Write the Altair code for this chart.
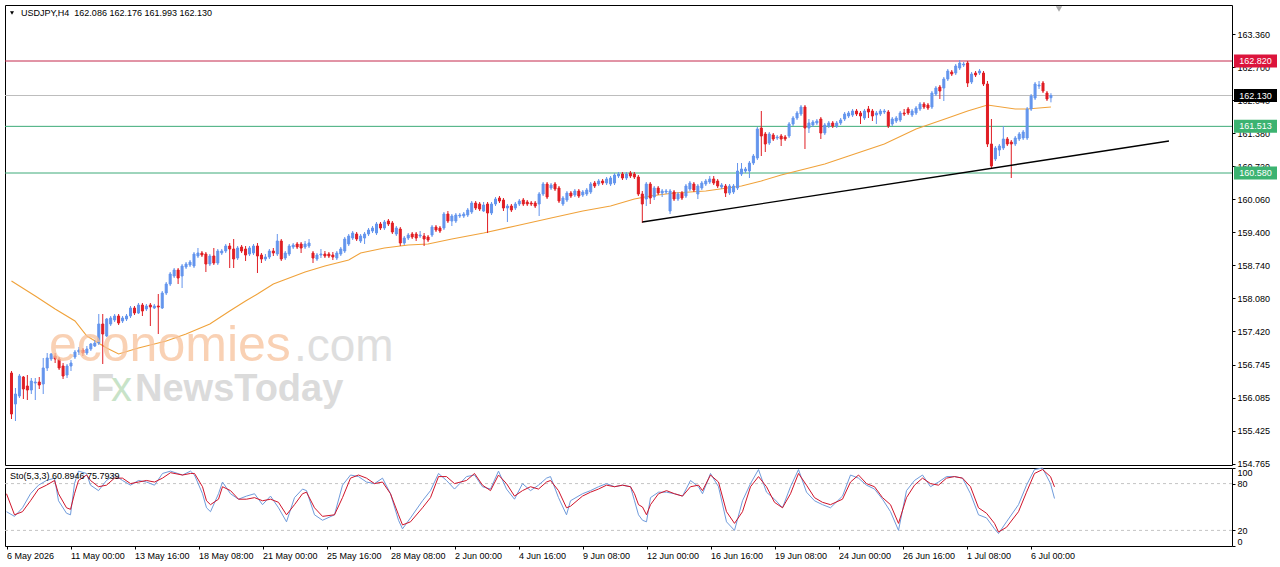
import altair as alt
import pandas as pd

# ---------------- data ----------------
bar_open = [
    156.58, 155.96, 156.12, 156.50, 156.32, 156.24, 156.38, 156.40, 156.36, 156.68,
    156.86, 156.92, 156.86, 156.72, 156.54, 156.72, 156.90, 157.00, 157.04, 156.98,
    157.06, 157.12, 157.18, 157.56, 157.32, 157.56, 157.64, 157.72, 157.62, 157.66,
    157.72, 157.88, 157.78, 157.94, 157.86, 157.94, 157.88, 157.92, 157.88, 158.18,
    158.36, 158.52, 158.64, 158.52, 158.70, 158.74, 158.72, 158.92, 158.98, 158.96,
    158.76, 158.92, 158.78, 158.98, 159.02, 159.12, 159.06, 158.88, 159.10, 159.06,
    158.96, 158.98, 159.12, 158.94, 158.86, 158.90, 159.02, 158.96, 159.22, 158.88,
    158.96, 159.10, 159.16, 159.16, 159.10, 159.12, 158.98, 158.86, 158.94, 158.96,
    158.96, 158.94, 158.88, 158.96, 159.02, 159.16, 159.28, 159.36, 159.22, 159.28,
    159.36, 159.42, 159.38, 159.56, 159.48, 159.62, 159.58, 159.36, 159.46, 159.18,
    159.28, 159.36, 159.36, 159.32, 159.32, 159.30, 159.34, 159.50, 159.48, 159.48,
    159.76, 159.62, 159.62, 159.72, 159.72, 159.74, 159.80, 159.98, 159.96, 159.82,
    159.96, 159.78, 159.96, 160.08, 160.04, 159.88, 159.92, 159.88, 159.96, 160.04,
    160.00, 159.98, 159.98, 159.96, 160.16, 160.36, 160.28, 160.36, 160.28, 159.96,
    160.04, 160.18, 160.14, 160.22, 160.14, 160.16, 160.20, 160.38, 160.36, 160.42,
    160.38, 160.36, 160.38, 160.52, 160.56, 160.48, 160.58, 160.56, 160.50, 160.16,
    160.06, 160.36, 160.10, 160.28, 160.18, 160.20, 159.82, 160.20, 160.06, 160.18,
    160.12, 160.26, 160.36, 160.16, 160.28, 160.36, 160.40, 160.46, 160.42, 160.30,
    160.32, 160.18, 160.20, 160.28, 160.56, 160.62, 160.62, 160.78, 160.88, 161.48,
    161.36, 161.18, 161.34, 161.28, 161.32, 161.30, 161.32, 161.56, 161.68, 161.76,
    161.90, 161.48, 161.54, 161.58, 161.66, 161.38, 161.52, 161.58, 161.52, 161.58,
    161.66, 161.72, 161.74, 161.82, 161.78, 161.68, 161.86, 161.82, 161.74, 161.76,
    161.80, 161.80, 161.56, 161.62, 161.64, 161.78, 161.86, 161.74, 161.78, 161.86,
    161.96, 161.94, 161.90, 162.16, 162.30, 162.28, 162.46, 162.60, 162.58, 162.68,
    162.74, 162.78, 162.40, 162.58, 162.58, 162.58, 162.36, 161.16, 160.86, 161.04,
    161.08, 161.26, 161.20, 161.16, 161.26, 161.28, 161.28, 161.86, 162.08, 162.32,
    162.38, 162.18, 162.086,
]
bar_high = [
    156.62, 156.28, 156.56, 156.52, 156.54, 156.48, 156.48, 156.50, 156.88, 156.98,
    156.98, 156.98, 156.90, 156.78, 156.76, 156.84, 157.04, 157.10, 157.08, 157.12,
    157.18, 157.24, 157.76, 157.76, 157.68, 157.72, 157.76, 157.76, 157.72, 157.76,
    157.92, 157.92, 157.98, 157.98, 157.96, 157.98, 157.96, 158.16, 158.22, 158.40,
    158.60, 158.68, 158.68, 158.76, 158.80, 158.84, 159.00, 159.08, 159.02, 159.00,
    158.96, 159.08, 159.06, 159.06, 159.16, 159.18, 159.26, 159.12, 159.14, 159.12,
    159.12, 159.16, 159.18, 158.98, 158.96, 159.06, 159.08, 159.36, 159.26, 159.02,
    159.16, 159.18, 159.20, 159.20, 159.22, 159.26, 159.02, 158.98, 159.06, 159.02,
    159.00, 159.00, 159.02, 159.10, 159.30, 159.36, 159.42, 159.40, 159.36, 159.40,
    159.48, 159.52, 159.60, 159.60, 159.64, 159.66, 159.62, 159.52, 159.50, 159.32,
    159.38, 159.40, 159.40, 159.42, 159.38, 159.34, 159.54, 159.54, 159.52, 159.80,
    159.82, 159.76, 159.78, 159.78, 159.80, 159.88, 160.02, 160.02, 160.00, 160.00,
    160.00, 160.00, 160.10, 160.12, 160.08, 159.96, 159.96, 160.00, 160.06, 160.08,
    160.04, 160.02, 160.02, 160.20, 160.40, 160.40, 160.38, 160.40, 160.32, 160.12,
    160.22, 160.22, 160.26, 160.26, 160.24, 160.28, 160.40, 160.42, 160.46, 160.46,
    160.50, 160.52, 160.58, 160.60, 160.60, 160.60, 160.62, 160.60, 160.54, 160.22,
    160.40, 160.40, 160.32, 160.32, 160.26, 160.26, 160.26, 160.24, 160.20, 160.22,
    160.36, 160.42, 160.40, 160.36, 160.42, 160.46, 160.52, 160.52, 160.46, 160.38,
    160.36, 160.36, 160.36, 160.78, 160.78, 160.70, 160.82, 160.96, 161.50, 161.82,
    161.40, 161.40, 161.38, 161.34, 161.36, 161.34, 161.60, 161.72, 161.82, 161.94,
    161.94, 161.66, 161.64, 161.66, 161.70, 161.58, 161.62, 161.62, 161.62, 161.68,
    161.80, 161.82, 161.86, 161.86, 161.82, 161.86, 161.92, 161.86, 161.82, 161.86,
    161.86, 161.84, 161.70, 161.72, 161.82, 161.86, 161.90, 161.86, 161.92, 162.00,
    162.00, 161.98, 162.22, 162.32, 162.34, 162.50, 162.66, 162.64, 162.76, 162.84,
    162.80, 162.82, 162.60, 162.62, 162.66, 162.62, 162.42, 161.66, 161.12, 161.16,
    161.52, 161.30, 161.24, 161.32, 161.40, 161.44, 161.90, 162.16, 162.40, 162.42,
    162.42, 162.22, 162.176,
]
bar_low = [
    155.66, 155.62, 156.08, 156.06, 156.04, 156.16, 156.04, 156.26, 156.16, 156.62,
    156.82, 156.78, 156.64, 156.46, 156.48, 156.62, 156.86, 156.94, 156.92, 156.94,
    157.02, 157.10, 157.14, 156.76, 157.30, 157.52, 157.60, 157.54, 157.58, 157.62,
    157.68, 157.74, 157.76, 157.72, 157.82, 157.52, 157.86, 157.36, 157.86, 158.14,
    158.32, 158.48, 158.36, 158.28, 158.66, 158.70, 158.68, 158.88, 158.90, 158.60,
    158.72, 158.74, 158.74, 158.94, 158.98, 158.68, 158.68, 158.84, 158.98, 158.82,
    158.92, 158.94, 158.58, 158.78, 158.82, 158.86, 158.92, 158.92, 158.82, 158.84,
    158.92, 159.06, 159.06, 158.98, 159.06, 159.08, 158.78, 158.82, 158.88, 158.88,
    158.88, 158.84, 158.84, 158.92, 158.98, 159.12, 159.24, 159.22, 159.18, 159.16,
    159.32, 159.38, 159.34, 159.44, 159.44, 159.52, 159.36, 159.32, 159.12, 159.14,
    159.24, 159.26, 159.22, 159.28, 159.12, 159.20, 159.30, 159.40, 159.38, 159.44,
    159.58, 159.52, 159.58, 159.68, 159.68, 159.70, 159.76, 159.84, 159.82, 159.80,
    159.38, 159.74, 159.92, 159.98, 159.82, 159.60, 159.80, 159.84, 159.92, 159.92,
    159.92, 159.92, 159.88, 159.72, 160.12, 160.06, 160.24, 160.22, 159.98, 159.92,
    160.00, 160.08, 160.10, 160.08, 160.10, 160.12, 160.16, 160.28, 160.32, 160.34,
    160.34, 160.32, 160.34, 160.48, 160.44, 160.44, 160.48, 160.46, 160.12, 159.58,
    159.92, 159.96, 160.04, 160.14, 160.10, 160.16, 159.76, 160.02, 160.02, 160.04,
    160.08, 160.22, 160.20, 160.06, 160.24, 160.32, 160.36, 160.34, 160.28, 160.26,
    160.10, 160.14, 160.16, 160.24, 160.52, 160.58, 160.48, 160.74, 160.84, 160.92,
    161.00, 161.14, 161.22, 161.24, 161.12, 161.22, 161.28, 161.52, 161.64, 161.72,
    161.06, 161.38, 161.50, 161.54, 161.26, 161.34, 161.48, 161.48, 161.48, 161.54,
    161.62, 161.68, 161.70, 161.72, 161.56, 161.64, 161.68, 161.62, 161.56, 161.72,
    161.76, 161.48, 161.52, 161.58, 161.60, 161.72, 161.74, 161.70, 161.74, 161.82,
    161.86, 161.84, 161.86, 162.12, 162.06, 162.02, 162.42, 162.52, 162.54, 162.64,
    162.70, 162.30, 162.36, 162.50, 162.54, 162.32, 161.10, 160.66, 160.82, 160.92,
    161.04, 161.12, 160.48, 161.12, 161.22, 161.24, 161.24, 161.82, 162.04, 162.26,
    162.18, 162.02, 161.993,
]
bar_close = [
    155.76, 156.16, 156.52, 156.26, 156.24, 156.42, 156.40, 156.34, 156.68, 156.88,
    156.96, 156.86, 156.68, 156.52, 156.72, 156.78, 157.00, 157.04, 156.98, 157.06,
    157.16, 157.18, 157.56, 157.36, 157.66, 157.68, 157.72, 157.58, 157.68, 157.72,
    157.88, 157.78, 157.94, 157.82, 157.92, 157.90, 157.92, 157.90, 158.18, 158.36,
    158.56, 158.64, 158.48, 158.72, 158.76, 158.80, 158.96, 158.98, 158.94, 158.76,
    158.92, 158.78, 159.02, 159.02, 159.12, 159.06, 158.86, 159.08, 159.02, 158.94,
    159.08, 159.12, 158.92, 158.86, 158.90, 159.02, 158.98, 159.22, 158.86, 158.98,
    159.12, 159.14, 159.10, 159.08, 159.16, 159.18, 158.88, 158.94, 158.96, 158.92,
    158.92, 158.90, 158.98, 159.06, 159.26, 159.32, 159.38, 159.26, 159.32, 159.36,
    159.44, 159.48, 159.56, 159.48, 159.60, 159.56, 159.40, 159.48, 159.18, 159.28,
    159.34, 159.30, 159.28, 159.34, 159.26, 159.24, 159.50, 159.44, 159.42, 159.76,
    159.62, 159.72, 159.74, 159.74, 159.76, 159.84, 159.98, 159.88, 159.86, 159.94,
    159.78, 159.96, 160.06, 160.02, 159.88, 159.92, 159.84, 159.96, 160.02, 159.96,
    159.96, 159.96, 159.92, 160.16, 160.36, 160.10, 160.34, 160.26, 160.02, 160.08,
    160.18, 160.12, 160.22, 160.12, 160.20, 160.24, 160.36, 160.32, 160.42, 160.38,
    160.46, 160.48, 160.54, 160.56, 160.48, 160.56, 160.52, 160.50, 160.16, 159.96,
    160.36, 160.08, 160.28, 160.18, 160.22, 160.22, 160.22, 160.06, 160.16, 160.08,
    160.32, 160.38, 160.24, 160.32, 160.38, 160.42, 160.46, 160.38, 160.32, 160.34,
    160.18, 160.32, 160.32, 160.62, 160.66, 160.66, 160.78, 160.92, 161.46, 161.32,
    161.16, 161.36, 161.26, 161.30, 161.26, 161.26, 161.56, 161.68, 161.78, 161.90,
    161.48, 161.58, 161.60, 161.62, 161.38, 161.54, 161.58, 161.52, 161.58, 161.64,
    161.76, 161.78, 161.82, 161.76, 161.72, 161.82, 161.80, 161.72, 161.78, 161.82,
    161.82, 161.52, 161.66, 161.68, 161.78, 161.76, 161.78, 161.82, 161.88, 161.96,
    161.90, 161.88, 162.18, 162.28, 162.22, 162.46, 162.62, 162.56, 162.72, 162.78,
    162.76, 162.38, 162.56, 162.54, 162.62, 162.36, 161.16, 160.72, 161.08, 161.12,
    161.26, 161.16, 161.16, 161.28, 161.36, 161.40, 161.86, 162.12, 162.36, 162.34,
    162.22, 162.06, 162.130,
]

# moving average (orange), sampled along the line
ma_bar = [0, 6, 11, 16, 19, 24, 27, 32, 39, 44, 50, 55, 59, 62, 66, 74, 79, 85, 88, 94,
          100, 105, 111, 119, 127, 136, 144, 151, 157, 161, 167, 175, 184, 189, 194, 200,
          205, 211, 220, 228, 236, 241, 246, 253, 256, 259, 262]
ma_value = [158.42, 158.12, 157.86, 157.62, 157.32, 157.08, 156.96, 157.08, 157.22, 157.36,
            157.56, 157.82, 158.02, 158.16, 158.36, 158.60, 158.72, 158.84, 158.98, 159.08,
            159.14, 159.16, 159.26, 159.38, 159.52, 159.68, 159.82, 159.92, 160.06, 160.12,
            160.18, 160.22, 160.32, 160.42, 160.54, 160.66, 160.76, 160.92, 161.16, 161.46,
            161.68, 161.82, 161.94, 161.86, 161.86, 161.88, 161.90]

# trend line
trend_bar = [159, 291.75]
trend_price = [159.60, 161.22]

# horizontal levels
level_names = ["resistance", "current", "support1", "support2"]
level_prices = [162.820, 162.130, 161.513, 160.580]

# stochastic (5,3,3)
sto_bar = [0, 2, 4, 6, 8, 10, 12, 13, 15, 16, 17, 18, 20, 21, 23, 25, 27, 29, 31, 33,
           35, 37, 39, 41, 44, 46, 47, 49, 50, 51, 53, 54, 56, 58, 60, 62, 64, 66, 68, 70,
           72, 74, 75, 77, 79, 82, 84, 86, 88, 90, 92, 94, 96, 98, 99, 101, 104, 106, 108, 110,
           112, 115, 117, 119, 121, 123, 125, 127, 129, 131, 133, 135, 136, 138, 140, 141, 144, 146, 148, 150,
           152, 154, 156, 157, 158, 159, 160, 161, 163, 165, 167, 169, 171, 173, 174, 176, 178, 180, 182, 184,
           186, 188, 190, 192, 194, 196, 198, 200, 202, 204, 206, 209, 211, 213, 215, 217, 219, 221, 223, 225,
           227, 229, 231, 233, 235, 237, 239, 241, 243, 245, 247, 248, 250, 253, 255, 257, 259, 261, 262]
sto_k = [44, 38, 49, 67, 78, 84, 87, 58, 42, 40, 80, 96, 93, 78, 71, 84, 91, 84, 78, 84,
         82, 78, 93, 96, 91, 96, 91, 67, 49, 44, 67, 82, 67, 60, 64, 67, 53, 64, 49, 31,
         62, 73, 71, 40, 33, 40, 78, 91, 89, 82, 80, 87, 67, 33, 22, 36, 58, 71, 93, 84,
         73, 89, 91, 76, 73, 96, 73, 60, 80, 71, 78, 87, 89, 62, 40, 58, 67, 71, 76, 80,
         76, 78, 76, 58, 40, 33, 31, 62, 69, 69, 67, 64, 84, 76, 67, 93, 76, 31, 20, 58,
         80, 98, 69, 60, 49, 76, 98, 69, 58, 53, 49, 64, 91, 87, 78, 73, 60, 44, 20, 71,
         84, 91, 76, 82, 89, 89, 87, 67, 40, 36, 22, 16, 31, 53, 78, 98, 100, 80, 60.8946]
sto_d = [67, 40, 44, 58, 73, 78, 84, 67, 49, 47, 67, 84, 91, 84, 76, 78, 87, 87, 80, 82,
         84, 82, 87, 94, 91, 93, 93, 76, 58, 53, 60, 76, 71, 60, 60, 62, 58, 60, 56, 40,
         53, 67, 69, 49, 38, 40, 62, 87, 91, 87, 80, 82, 67, 40, 27, 31, 49, 62, 89, 89,
         80, 84, 93, 78, 71, 91, 80, 64, 71, 76, 73, 82, 84, 71, 49, 51, 64, 69, 73, 78,
         76, 78, 76, 67, 53, 50, 40, 53, 67, 71, 67, 64, 76, 78, 71, 91, 82, 44, 29, 44,
         76, 89, 76, 56, 49, 67, 93, 78, 62, 56, 53, 60, 82, 91, 80, 76, 62, 53, 29, 62,
         78, 87, 80, 78, 87, 89, 87, 76, 49, 42, 29, 18, 24, 44, 69, 93, 98, 89, 75.7939]
sto_levels = [20, 80]

# axes
price_ticks = [163.360, 162.700, 162.040, 161.380, 160.720, 160.060, 159.400, 158.740,
               158.080, 157.420, 156.745, 156.085, 155.425, 154.765]
time_tick_bars = [0, 16, 32, 48, 64, 80, 96, 112, 128, 144, 160, 176, 192, 208, 224, 240, 256]
time_tick_labels = ["6 May 2026", "11 May 00:00", "13 May 16:00", "18 May 08:00", "21 May 00:00",
                    "25 May 16:00", "28 May 08:00", "2 Jun 00:00", "4 Jun 16:00", "9 Jun 08:00",
                    "12 Jun 00:00", "16 Jun 16:00", "19 Jun 08:00", "24 Jun 00:00", "26 Jun 16:00",
                    "1 Jul 08:00", "6 Jul 00:00"]

header_text = "USDJPY,H4\u00a0\u00a0162.086 162.176 161.993 162.130"
sto_text = "Sto(5,3,3) 60.8946 75.7939"

# ---------------- styles ----------------
FONT = "Liberation Sans"
BLUE = "#6495ED"
RED = "#E01E24"
ORANGE = "#F0A23A"
LEVEL_COLORS = {"resistance": "#C4284C", "current": "#BDBDBD", "support1": "#3CAA78", "support2": "#3CAA78"}
TAG_COLORS = {"resistance": "#DC143C", "current": "#000000", "support1": "#3CB371", "support2": "#3CB371"}
K_COLOR = "#6F9BDB"
D_COLOR = "#D0142A"

W, H_MAIN, H_STO = 1227, 460, 78
xs = alt.Scale(domain=[-0.375, 306.375], nice=False, zero=False)
ys = alt.Scale(domain=[154.74, 163.94], nice=False, zero=False)
ss = alt.Scale(domain=[0, 100], nice=False, zero=False)

y_axis = alt.Axis(orient="right", values=price_ticks, format=".3f", title=None,
                  tickSize=3, labelPadding=2, domain=False, grid=False)
X_MAIN = alt.X("bar:Q", scale=xs, axis=None)

candles = pd.DataFrame({
    "bar": list(range(len(bar_close))),
    "open": bar_open, "high": bar_high, "low": bar_low, "close": bar_close,
})
ma_df = pd.DataFrame({"bar": ma_bar, "ma": ma_value})
trend_df = pd.DataFrame({"bar": trend_bar, "price": trend_price})
level_df = pd.DataFrame({"name": level_names, "price": level_prices})
sto_df = pd.DataFrame({"bar": sto_bar, "k": sto_k, "d": sto_d})
sto_lvl_df = pd.DataFrame({"level": sto_levels})

dir_color = alt.Scale(domain=["up", "down"], range=[BLUE, RED])

base_c = alt.Chart(candles).transform_calculate(
    dir="datum.close >= datum.open ? 'up' : 'down'"
)

layers = []
# level lines
for nm in level_names:
    layers.append(
        alt.Chart(level_df).transform_filter(alt.datum.name == nm)
        .mark_rule(color=LEVEL_COLORS[nm], strokeWidth=1)
        .encode(y=alt.Y("price:Q", scale=ys, axis=y_axis))
    )

wicks = base_c.mark_rule(strokeWidth=1).encode(
    x=X_MAIN,
    y=alt.Y("low:Q", scale=ys, axis=y_axis),
    y2="high:Q",
    color=alt.Color("dir:N", scale=dir_color, legend=None),
)
bodies = base_c.mark_bar(size=2, strokeWidth=1).encode(
    x=X_MAIN,
    y=alt.Y("open:Q", scale=ys, axis=y_axis),
    y2="close:Q",
    color=alt.Color("dir:N", scale=dir_color, legend=None),
    stroke=alt.Stroke("dir:N", scale=dir_color, legend=None),
)
ma_line = alt.Chart(ma_df).mark_line(color=ORANGE, strokeWidth=1.1).encode(
    x=X_MAIN, y=alt.Y("ma:Q", scale=ys, axis=y_axis)
)
trend = alt.Chart(trend_df).mark_line(color="#000000", strokeWidth=1.3).encode(
    x=X_MAIN, y=alt.Y("price:Q", scale=ys, axis=y_axis)
)
layers += [ma_line, wicks, bodies, trend]

# price tags on the right
for nm in level_names:
    tag = alt.Chart(level_df).transform_filter(alt.datum.name == nm).transform_calculate(
        hi="datum.price + 0.13", lo="datum.price - 0.13", lab="format(datum.price, '.3f')"
    )
    layers.append(tag.mark_rect(color=TAG_COLORS[nm]).encode(
        x=alt.value(W + 2), x2=alt.value(W + 45),
        y=alt.Y("hi:Q", scale=ys, axis=y_axis), y2="lo:Q"))
    layers.append(tag.mark_text(color="white", fontSize=9, font=FONT, align="center",
                                baseline="middle").encode(
        x=alt.value(W + 23.5), y=alt.Y("price:Q", scale=ys, axis=y_axis), text="lab:N"))

# watermark
def wm(text, x, y, color, size, weight="normal", opacity=0.75):
    return alt.Chart(pd.DataFrame({"t": [text]})).mark_text(
        align="left", baseline="alphabetic", font=FONT, fontSize=size, fontWeight=weight,
        color=color, opacity=opacity
    ).encode(x=alt.value(x), y=alt.value(y), text="t:N")

layers += [
    wm("economies", 44, 356, "#F8C29C", 50),
    wm(".com", 289, 356, "#D4D4D4", 46),
    wm("F", 86, 396, "#CFCFCF", 38, "bold"),
    wm("x", 106, 396, "#B6DAB6", 42),
    wm("NewsToday", 130, 396, "#CFCFCF", 38, "bold"),
]

# header
layers.append(alt.Chart(pd.DataFrame({"t": [header_text]})).mark_text(
    align="left", baseline="middle", font=FONT, fontSize=9, color="#000000"
).encode(x=alt.value(16), y=alt.value(8), text="t:N"))
layers.append(alt.Chart(pd.DataFrame({"t": ["h"]})).mark_point(
    shape="triangle-down", filled=True, color="#000000", size=16, opacity=1
).encode(x=alt.value(7), y=alt.value(8)))
layers.append(alt.Chart(pd.DataFrame({"t": ["s"]})).mark_point(
    shape="triangle-down", filled=True, color="#A8A8A8", size=40, opacity=1
).encode(x=alt.value(1054), y=alt.value(4)))

main = alt.layer(*layers).properties(width=W, height=H_MAIN)

# ---------------- stochastic panel ----------------
label_expr = "[" + ",".join("'" + s + "'" for s in time_tick_labels) + "][round(datum.value / 16)]"
x_sto_axis = alt.Axis(values=time_tick_bars, labelExpr=label_expr, labelAlign="left",
                      labelBaseline="top", labelPadding=2, tickSize=3, labelOverlap=False,
                      labelFlush=False, title=None, domain=False, grid=False)
X_STO = alt.X("bar:Q", scale=xs, axis=x_sto_axis)
s_axis = alt.Axis(orient="right", values=[0, 20, 80, 100], title=None, labelFlush=True,
                  tickSize=3, labelPadding=2, domain=False, grid=False)

sto_lv = alt.Chart(sto_lvl_df).mark_rule(color="#C4C4C4", strokeDash=[3, 3], strokeWidth=1).encode(
    y=alt.Y("level:Q", scale=ss, axis=s_axis)
)
k_line = alt.Chart(sto_df).mark_line(color=K_COLOR, strokeWidth=1).encode(
    x=X_STO, y=alt.Y("k:Q", scale=ss, axis=s_axis)
)
d_line = alt.Chart(sto_df).mark_line(color=D_COLOR, strokeWidth=1).encode(
    x=X_STO, y=alt.Y("d:Q", scale=ss, axis=s_axis)
)
sto_label = alt.Chart(pd.DataFrame({"t": [sto_text]})).mark_text(
    align="left", baseline="middle", font=FONT, fontSize=9, color="#000000"
).encode(x=alt.value(5), y=alt.value(8), text="t:N")

sto = alt.layer(sto_lv, k_line, d_line, sto_label).properties(width=W, height=H_STO)

chart = alt.vconcat(main, sto, spacing=3, bounds="flush").configure(
    padding={"left": 4, "top": 4, "right": 0, "bottom": 0},
    background="#FFFFFF",
    font=FONT,
).configure_view(stroke="#000000", strokeWidth=1).configure_axis(
    labelFont=FONT, labelFontSize=9, labelColor="#000000", tickColor="#000000", tickWidth=1
)

chart.save("out.html", embed_options={"renderer": "svg", "actions": False})
